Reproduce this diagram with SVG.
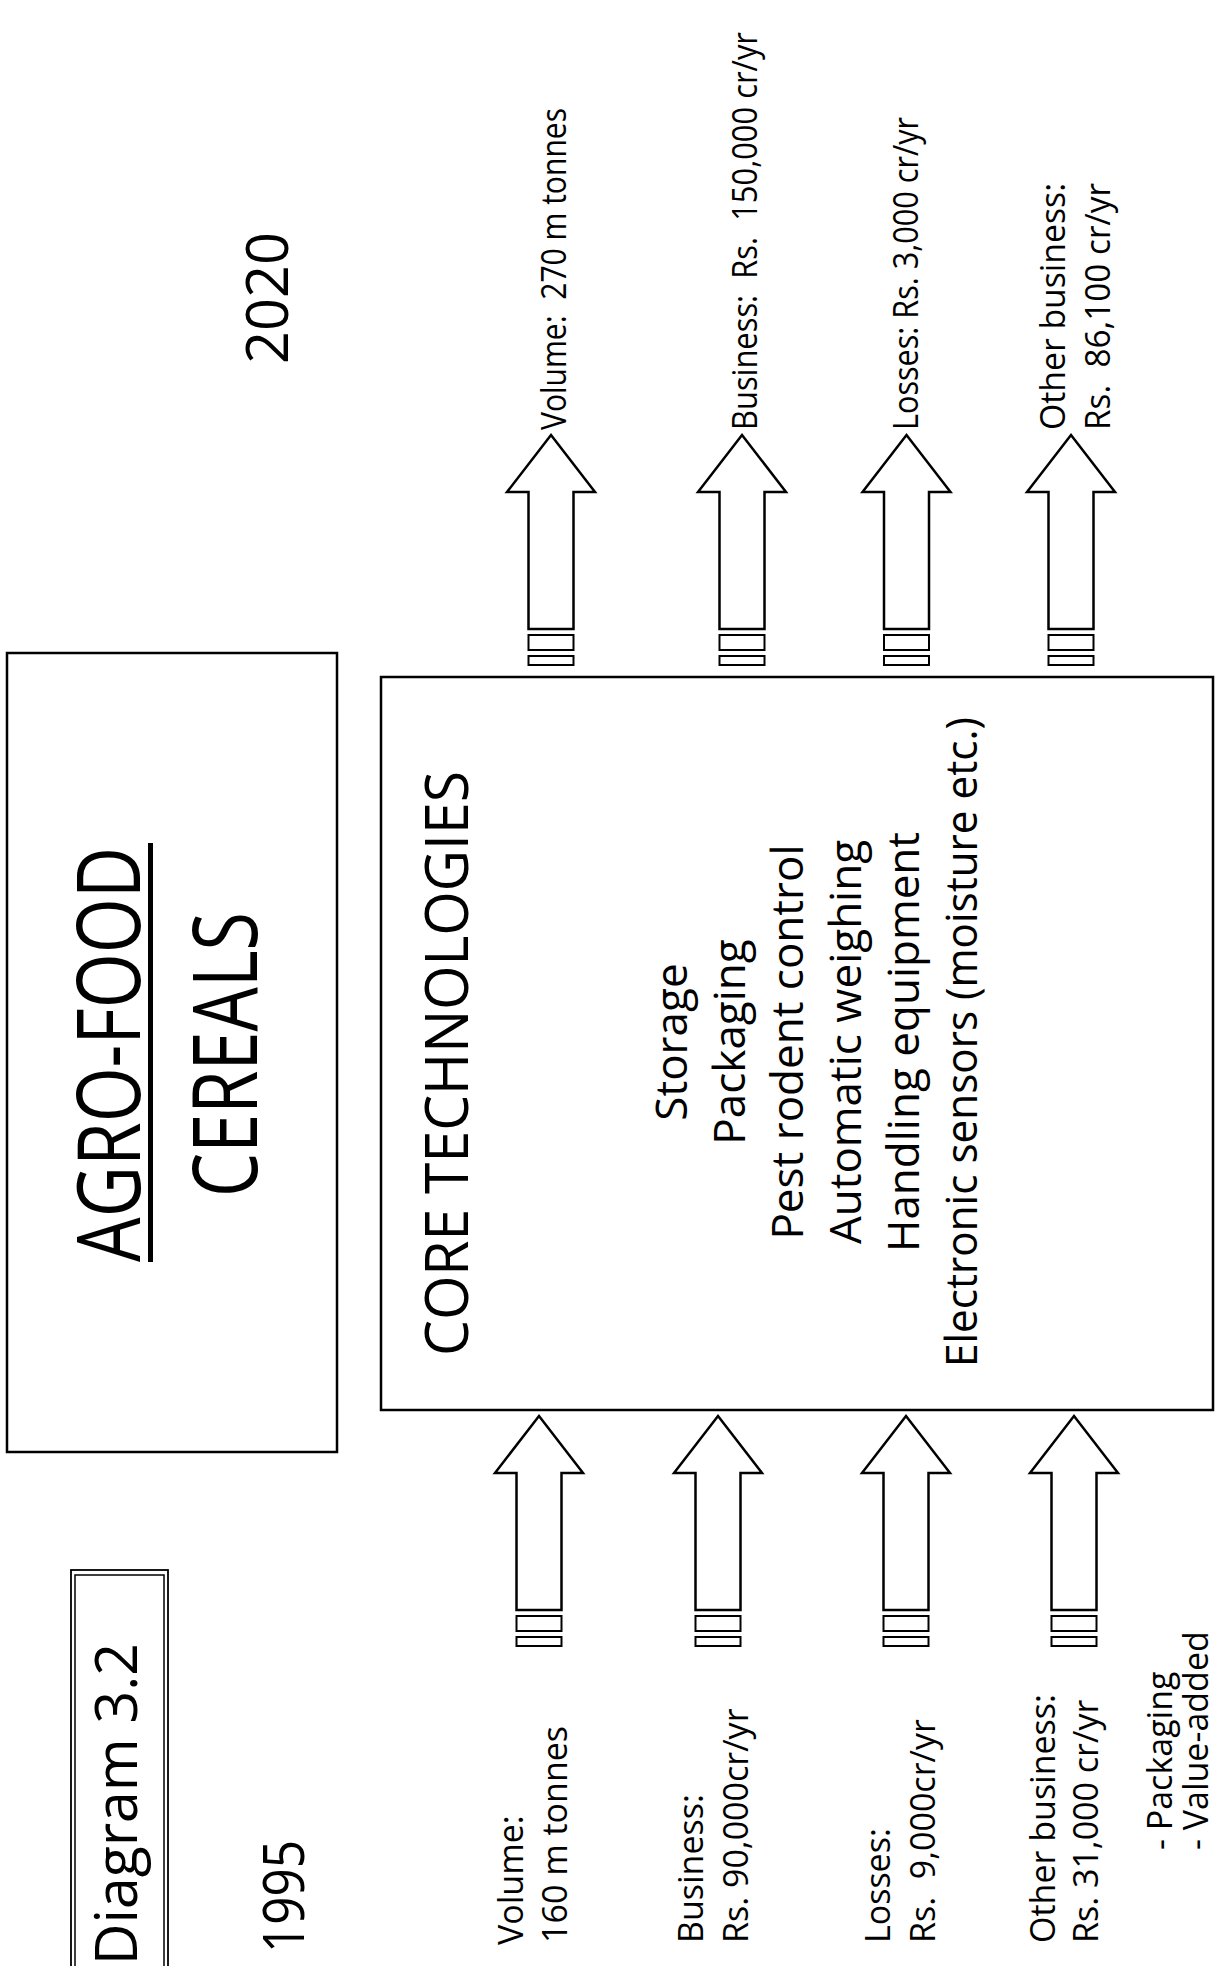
<svg xmlns="http://www.w3.org/2000/svg" width="1216" height="1966" viewBox="0 0 1216 1966">
<style>
text{font-family:"Open Sans","Noto Sans","DejaVu Sans",sans-serif;fill:#000;white-space:pre}
.box{fill:none;stroke:#000;stroke-width:2.5}
.arr{fill:#fff;stroke:#000;stroke-width:2.5;stroke-linejoin:miter}
.bar{fill:#fff;stroke:#000;stroke-width:2}
.lbl{font-size:34px}
.item{font-size:44px;text-anchor:middle}
</style>
<defs>
<g id="arrow">
<path class="arr" d="M0,0 L44,57 L22.5,57 L22.5,194 L-22.5,194 L-22.5,57 L-44,57 Z"/>
<rect class="bar" x="-22.5" y="200" width="45" height="15"/>
<rect class="bar" x="-22.5" y="221" width="45" height="9"/>
</g>
</defs>
<rect width="1216" height="1966" fill="#fff"/>

<g id="title-box">
<rect x="71" y="1570" width="97" height="420" fill="none" stroke="#000" stroke-width="1.8"/>
<rect x="75" y="1575" width="89" height="420" fill="none" stroke="#000" stroke-width="1.5"/>
<text transform="translate(137,1965) rotate(-90)" font-size="59" textLength="322" lengthAdjust="spacingAndGlyphs">Diagram 3.2</text>
</g>

<g id="year-1995">
<text transform="translate(304,1953) rotate(-90)" font-size="57" textLength="113" lengthAdjust="spacingAndGlyphs">1995</text>
</g>

<g id="year-2020">
<text transform="translate(288,364) rotate(-90)" font-size="58" textLength="132" lengthAdjust="spacingAndGlyphs">2020</text>
</g>

<g id="agro-food-box">
<rect class="box" x="7" y="653" width="330" height="799"/>
<text transform="translate(140,1262) rotate(-90)" font-size="88" textLength="415" lengthAdjust="spacingAndGlyphs">AGRO-FOOD</text>
<line x1="150.5" y1="843" x2="150.5" y2="1262" stroke="#000" stroke-width="5"/>
<text transform="translate(257,1197) rotate(-90)" font-size="90" textLength="285" lengthAdjust="spacingAndGlyphs">CEREALS</text>
</g>

<g id="core-technologies">
<rect class="box" x="381" y="677" width="832" height="733"/>
<text transform="translate(468,1356) rotate(-90)" font-size="60" textLength="585" lengthAdjust="spacingAndGlyphs">CORE TECHNOLOGIES</text>
<text class="item" transform="translate(687,1042) rotate(-90)">Storage</text>
<text class="item" transform="translate(745,1042) rotate(-90)">Packaging</text>
<text class="item" transform="translate(803,1042) rotate(-90)">Pest rodent control</text>
<text class="item" transform="translate(861,1042) rotate(-90)">Automatic weighing</text>
<text class="item" transform="translate(919,1042) rotate(-90)">Handling equipment</text>
<text class="item" transform="translate(977,1042) rotate(-90)" textLength="650" lengthAdjust="spacingAndGlyphs">Electronic sensors (moisture etc.)</text>
</g>

<g id="connectors">
<use href="#arrow" transform="translate(551,435)"/>
<use href="#arrow" transform="translate(742,435)"/>
<use href="#arrow" transform="translate(906.5,435)"/>
<use href="#arrow" transform="translate(1071,435)"/>
<use href="#arrow" transform="translate(539,1416)"/>
<use href="#arrow" transform="translate(718,1416)"/>
<use href="#arrow" transform="translate(906,1416)"/>
<use href="#arrow" transform="translate(1074,1416)"/>
</g>

<g id="labels-1995">
<g id="in-volume">
<text class="lbl" transform="translate(523,1945) rotate(-90)">Volume:</text>
<text class="lbl" transform="translate(567,1943) rotate(-90)">160 m tonnes</text>
</g>
<g id="in-business">
<text class="lbl" transform="translate(703,1943) rotate(-90)">Business:</text>
<text class="lbl" transform="translate(748,1943) rotate(-90)">Rs. 90,000cr/yr</text>
</g>
<g id="in-losses">
<text class="lbl" transform="translate(890,1943) rotate(-90)">Losses:</text>
<text class="lbl" transform="translate(935,1943) rotate(-90)">Rs.  9,000cr/yr</text>
</g>
<g id="in-other">
<text class="lbl" transform="translate(1055,1943) rotate(-90)">Other business:</text>
<text class="lbl" transform="translate(1098,1943) rotate(-90)">Rs. 31,000 cr/yr</text>
</g>
<g id="in-notes">
<text class="lbl" transform="translate(1172,1850) rotate(-90)">- Packaging</text>
<text class="lbl" transform="translate(1208,1850) rotate(-90)">- Value-added</text>
</g>
</g>

<g id="labels-2020">
<g id="out-volume">
<text class="lbl" transform="translate(566,430) rotate(-90)" textLength="322" lengthAdjust="spacingAndGlyphs">Volume:  270 m tonnes</text>
</g>
<g id="out-business">
<text class="lbl" transform="translate(757,430) rotate(-90)" textLength="398" lengthAdjust="spacingAndGlyphs">Business:  Rs.  150,000 cr/yr</text>
</g>
<g id="out-losses">
<text class="lbl" transform="translate(918,430) rotate(-90)" textLength="313" lengthAdjust="spacingAndGlyphs">Losses: Rs. 3,000 cr/yr</text>
</g>
<g id="out-other">
<text class="lbl" transform="translate(1065,430) rotate(-90)" textLength="247" lengthAdjust="spacingAndGlyphs">Other business:</text>
<text class="lbl" transform="translate(1110,430) rotate(-90)" textLength="247" lengthAdjust="spacingAndGlyphs">Rs.  86,100 cr/yr</text>
</g>
</g>
</svg>
